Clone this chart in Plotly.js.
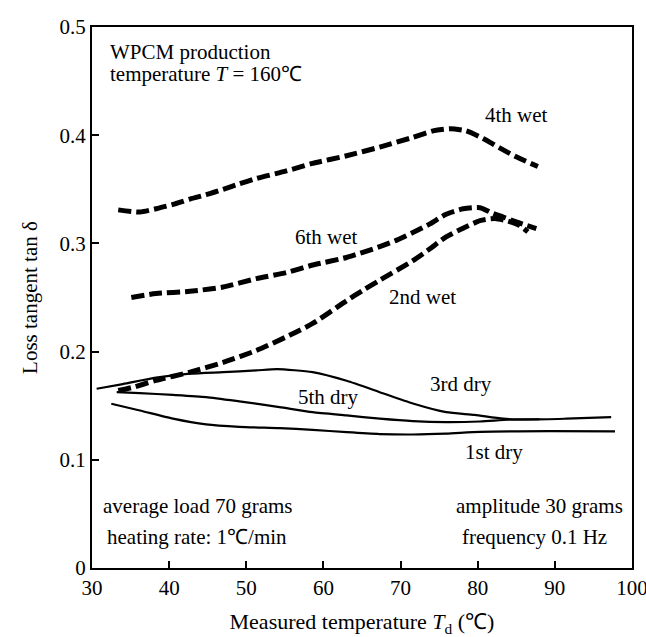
<!DOCTYPE html>
<html>
<head>
<meta charset="utf-8">
<script src="https://cdn.plot.ly/plotly-3.0.1.min.js"></script>
<style>html,body{margin:0;padding:0;background:#fff;}#chart{width:646px;height:637px;}</style>
</head>
<body>
<div id="chart"></div>
<script>
// Series data (temperature °C, loss tangent)
const wet4X = [33.4, 36.2, 38.3, 40.5, 42.7, 44.8, 47.0, 49.1, 51.3, 55.2, 58.6, 63.0, 67.3, 71.6, 74.2, 76.4, 78.5, 80.7, 82.9, 85.0, 87.8];
const wet4Y = [0.331, 0.329, 0.332, 0.336, 0.341, 0.345, 0.350, 0.355, 0.360, 0.367, 0.374, 0.381, 0.389, 0.398, 0.404, 0.406, 0.404, 0.397, 0.388, 0.380, 0.371];

const wet6X = [35.1, 38.3, 42.7, 47.0, 51.3, 55.2, 58.6, 63.0, 67.3, 69.5, 71.6, 73.8, 75.9, 78.1, 80.3, 82.0, 83.3, 85.0, 87.6];
const wet6Y = [0.250, 0.2536, 0.2557, 0.2597, 0.2674, 0.273, 0.280, 0.287, 0.297, 0.303, 0.310, 0.318, 0.327, 0.332, 0.333, 0.3276, 0.3244, 0.3198, 0.3137];

const wet2X = [33.4, 35.3, 38.3, 42.7, 47.0, 51.3, 55.6, 58.6, 63.0, 65.1, 67.3, 71.6, 73.8, 75.9, 78.1, 80.3, 82.2, 83.9, 85.4, 86.5];
const wet2Y = [0.164, 0.167, 0.1734, 0.181, 0.190, 0.201, 0.215, 0.226, 0.247, 0.2566, 0.266, 0.284, 0.295, 0.306, 0.314, 0.321, 0.323, 0.3207, 0.3167, 0.3106];

const dry3X = [30.6, 34.0, 38.3, 42.7, 47.0, 51.3, 54.0, 58.6, 63.0, 67.3, 71.6, 75.9, 79.6, 83.3, 87.2, 91.5, 97.3];
const dry3Y = [0.1657, 0.170, 0.1759, 0.1796, 0.181, 0.1826, 0.1838, 0.181, 0.173, 0.1625, 0.152, 0.144, 0.1415, 0.138, 0.1373, 0.138, 0.1394];

const dry5X = [33.2, 36.2, 40.5, 44.8, 49.1, 54.3, 58.6, 63.0, 67.3, 71.6, 75.9, 80.3, 84.0, 88.0];
const dry5Y = [0.1625, 0.1616, 0.160, 0.158, 0.154, 0.1487, 0.144, 0.141, 0.138, 0.1357, 0.1348, 0.1354, 0.1370, 0.1375];

const dry1X = [32.5, 36.2, 40.5, 44.8, 49.1, 54.3, 58.6, 63.0, 67.3, 71.6, 75.9, 80.3, 89.3, 97.8];
const dry1Y = [0.1518, 0.1456, 0.138, 0.1327, 0.1305, 0.1292, 0.1277, 0.1255, 0.1238, 0.1234, 0.1242, 0.1258, 0.1265, 0.1262];

const xTicks = [30, 40, 50, 60, 70, 80, 90, 100];
const yTicks = [0, 0.1, 0.2, 0.3, 0.4, 0.5];
const yTickText = ["0", "0.1", "0.2", "0.3", "0.4", "0.5"];

const FONT = "Liberation Serif, Times New Roman, serif";

const dashed = {color: "#000", width: 5, dash: "13px,5px", shape: "spline", smoothing: 0.6};
const solid = {color: "#000", width: 2.2, shape: "spline", smoothing: 0.6};

const traces = [
  {x: wet4X, y: wet4Y, mode: "lines", line: dashed, name: "4th wet"},
  {x: wet6X, y: wet6Y, mode: "lines", line: dashed, name: "6th wet"},
  {x: wet2X, y: wet2Y, mode: "lines", line: dashed, name: "2nd wet"},
  {x: dry3X, y: dry3Y, mode: "lines", line: solid, name: "3rd dry"},
  {x: dry5X, y: dry5Y, mode: "lines", line: solid, name: "5th dry"},
  {x: dry1X, y: dry1Y, mode: "lines", line: solid, name: "1st dry"}
];

function ann(text, x, y, xanchor) {
  return {text: text, x: x, y: y, xref: "x", yref: "y", showarrow: false,
          xanchor: xanchor || "center", yanchor: "middle",
          font: {family: FONT, size: 21, color: "#000"}};
}

const annotations = [
  ann("WPCM production", 32.1, 0.4768, "left"),
  ann("temperature <i>T</i> = 160℃", 32.1, 0.4564, "left"),
  ann("4th wet", 85.0, 0.4185),
  ann("6th wet", 60.4, 0.306),
  ann("2nd wet", 72.8, 0.2504),
  ann("3rd dry", 77.8, 0.1703),
  ann("5th dry", 60.6, 0.158),
  ann("1st dry", 82.1, 0.107),
  ann("average load 70 grams", 43.7, 0.0577),
  ann("heating rate: 1℃/min", 43.6, 0.0284),
  ann("amplitude 30 grams", 88.0, 0.0577),
  ann("frequency 0.1 Hz", 87.3, 0.0284)
];

const axisCommon = {
  showgrid: false, zeroline: false, showline: true, mirror: true,
  linecolor: "#000", linewidth: 2, ticks: "inside", ticklen: 7, tickwidth: 2, tickcolor: "#000",
  tickfont: {family: FONT, size: 21, color: "#000"}, ticklabeloverflow: "allow"
};

const layout = {
  width: 646, height: 637,
  margin: {l: 92, r: 14, t: 27, b: 69},
  paper_bgcolor: "#fff", plot_bgcolor: "#fff",
  showlegend: false,
  xaxis: Object.assign({}, axisCommon, {
    range: [30, 100], tickmode: "array", tickvals: xTicks, ticktext: xTicks.map(String),
    title: {text: "Measured temperature <i>T</i><sub>d</sub> (℃)", font: {family: FONT, size: 22, color: "#000"}, standoff: 18}
  }),
  yaxis: Object.assign({}, axisCommon, {
    range: [0, 0.5], tickmode: "array", tickvals: yTicks, ticktext: yTickText,
    title: {text: "Loss tangent tan δ", font: {family: FONT, size: 21, color: "#000"}, standoff: 16}
  }),
  annotations: annotations
};

Plotly.newPlot("chart", traces, layout, {displayModeBar: false, staticPlot: true});
</script>
</body>
</html>
